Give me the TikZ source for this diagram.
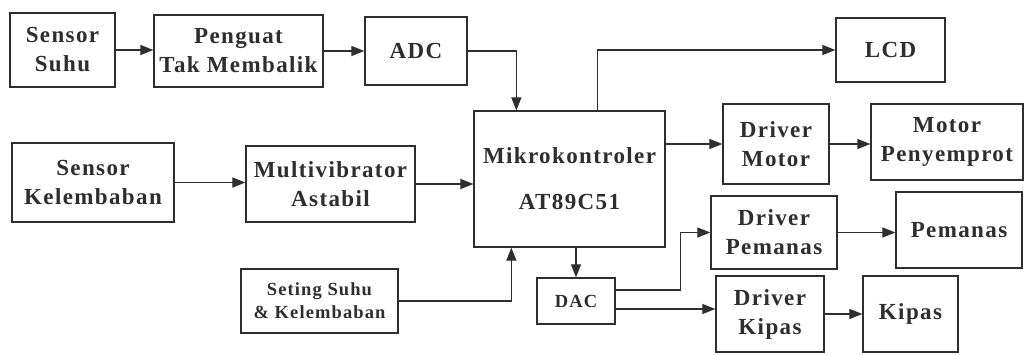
\documentclass[tikz,border=0pt]{standalone}
\usepackage{fontspec}
\setmainfont{Liberation Serif}[LetterSpace=6]
\usetikzlibrary{arrows.meta,calc}
\definecolor{ink}{HTML}{2E2E2E}
\begin{document}
\begin{tikzpicture}[x=1pt,y=-1pt,
  blk/.style={draw=ink,line width=1.3pt,text=ink,align=center,inner sep=0pt,
    font=\bfseries\fontsize{23}{29}\selectfont},
  arr/.style={draw=ink,line width=1.2pt,-{Triangle[length=13pt,width=10pt]}},
  ln/.style={draw=ink,line width=1.2pt}]
\useasboundingbox (0,0) rectangle (1033,354);
\fill[white] (0,0) rectangle (1033,354);
% nodes
\node[blk,minimum width=105pt,minimum height=74pt] (ss) at (62.5,50) {Sensor\\Suhu};
\node[blk,minimum width=169pt,minimum height=72pt] (pg) at (238.5,51) {Penguat\\Tak Membalik};
\node[blk,minimum width=102pt,minimum height=68pt] (adc) at (416,51) {ADC};
\node[blk,minimum width=191pt,minimum height=136pt,font=\bfseries\fontsize{23}{46}\selectfont] (mk) at (569.5,179) {Mikrokontroler\\AT89C51};
\node[blk,minimum width=109pt,minimum height=64pt] (lcd) at (890.5,50) {LCD};
\node[blk,minimum width=162pt,minimum height=79pt] (sk) at (93,182.5) {Sensor\\Kelembaban};
\node[blk,minimum width=169pt,minimum height=76pt] (mv) at (330.5,184) {Multivibrator\\Astabil};
\node[blk,minimum width=157pt,minimum height=64pt,font=\bfseries\fontsize{18.5}{23}\selectfont] (st) at (319.5,301) {Seting Suhu\\\& Kelembaban};
\node[blk,minimum width=78pt,minimum height=46pt,font=\bfseries\fontsize{18.5}{20}\selectfont] (dac) at (576,301) {DAC};
\node[blk,minimum width=106pt,minimum height=80pt] (dm) at (776,144) {Driver\\Motor};
\node[blk,minimum width=152pt,minimum height=76pt] (mp) at (947,142) {Motor\\Penyemprot};
\node[blk,minimum width=126pt,minimum height=73pt] (dp) at (774,232.5) {Driver\\Pemanas};
\node[blk,minimum width=126pt,minimum height=76pt] (pm) at (959,230) {Pemanas};
\node[blk,minimum width=108pt,minimum height=76pt] (dk) at (770,314) {Driver\\Kipas};
\node[blk,minimum width=95pt,minimum height=76pt] (kp) at (910.5,314) {Kipas};
% helper coordinates
\coordinate (mkin) at ([xshift=43pt]mk.north west);
\coordinate (mkout) at ([xshift=124pt]mk.north west);
\coordinate (mkst) at ([xshift=38pt]mk.south west);
\coordinate (dac1) at ([yshift=11pt]dac.east);
\coordinate (dac2) at ([yshift=-8pt]dac.east);
% connectors
\draw[arr] (ss.east) -- (ss.east -| pg.west);
\draw[arr] (pg.east) -- (pg.east -| adc.west);
\draw[arr] (adc.east) -| (mkin);
\draw[arr] (mkout) |- (lcd.west);
\draw[arr] (sk.east) -- (sk.east -| mv.west);
\draw[arr] (mv.east) -- (mv.east -| mk.west);
\draw[arr] (st.east) -| (mkst);
\draw[arr] (mk.south -| dac.north) -- (dac.north);
\draw[arr] (dm.west -| mk.east) -- (dm.west);
\draw[arr] (dm.east) -- (dm.east -| mp.west);
\draw[arr] (dac1) -- ++(65,0) |- (dp.west);
\draw[arr] (dac2) -- (dac2 -| dk.west);
\draw[arr] (dp.east) -- (dp.east -| pm.west);
\draw[arr] (dk.east) -- (dk.east -| kp.west);
\end{tikzpicture}
\end{document}
